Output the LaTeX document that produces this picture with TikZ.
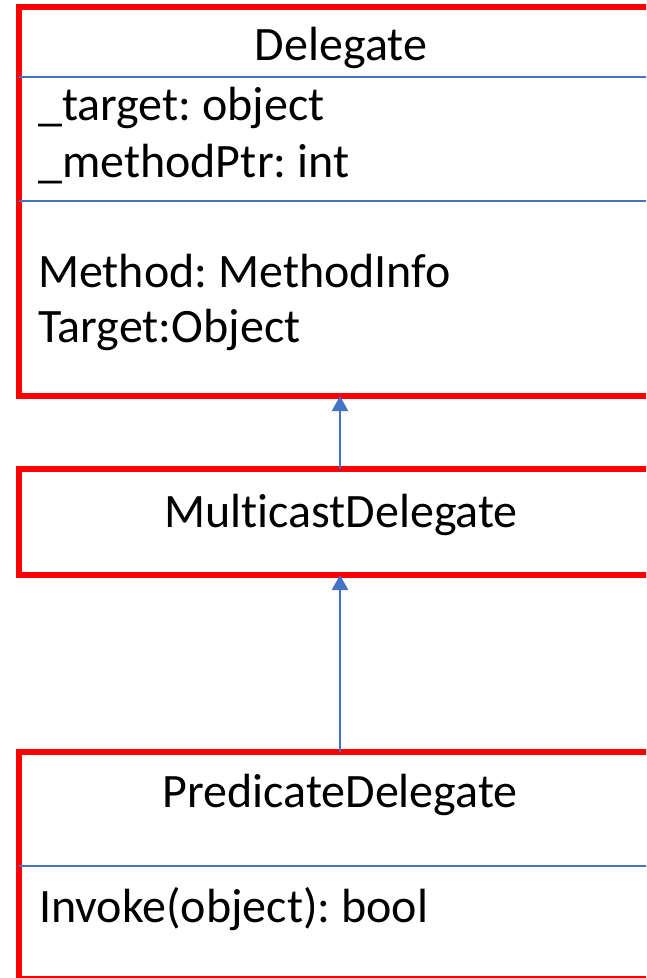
\documentclass[tikz,border=0pt]{standalone}
\usepackage{fontspec}
\setmainfont[Ligatures=NoCommon]{Carlito}
\usetikzlibrary{arrows.meta}
\definecolor{umlred}{RGB}{255,0,0}
\definecolor{umlblue}{RGB}{68,114,196}
\frenchspacing
\tikzset{
  classbox/.style={draw=umlred, line width=5.5pt, rectangle, inner sep=0pt, outer sep=0pt},
  divider/.style={draw=umlblue, line width=1.2pt},
  inherit/.style={draw=umlblue, line width=2.4pt, -{Triangle[width=16pt,length=15pt]}},
  label/.style={font=\fontsize{48}{57}\selectfont, inner sep=0pt, text=black},
}
\begin{document}
\begin{tikzpicture}[x=1pt, y=-1pt]
  \useasboundingbox (0,0) rectangle (646,978);
  \clip (0,0) rectangle (646,978);

  % class boxes (right edges run past the page)
  \node[classbox, minimum width=642pt, minimum height=389pt] (delegate) at (340,201.5) {};
  \node[classbox, minimum width=642pt, minimum height=106pt] (multicast) at (340,522) {};
  \node[classbox, minimum width=642pt, minimum height=227pt] (predicate) at (340,865.5) {};

  % compartment dividers
  \coordinate (d1l) at (19,77);   \coordinate (d1r) at (661,77);
  \coordinate (d2l) at (19,201);  \coordinate (d2r) at (661,201);
  \coordinate (p1l) at (19,866);  \coordinate (p1r) at (661,866);
  \draw[divider] (d1l) -- (d1r);
  \draw[divider] (d2l) -- (d2r);
  \draw[divider] (p1l) -- (p1r);

  % class names and members
  \node[label, anchor=base] (tdel) at (341,60.7) {Delegate};
  \node[label, anchor=base west] (ttarget) at (38,120) {\_target: object};
  \node[label, anchor=base west] (tmptr) at (38,177) {\_methodPtr: int};
  \node[label, anchor=base west] (tmethod) at (38,287) {Method: MethodInfo};
  \node[label, anchor=base west] (ttgt) at (38,342) {Target:Object};
  \node[label, anchor=base] (tmulti) at (341,527) {MulticastDelegate};
  \node[label, anchor=base] (tpred) at (340,807) {PredicateDelegate};
  \node[label, anchor=base west] (tinvoke) at (39,922) {Invoke(object): bool};

  % generalisation arrows
  \draw[inherit] (multicast.north) -- (delegate.south);
  \draw[inherit] (predicate.north) -- (multicast.south);
\end{tikzpicture}
\end{document}
